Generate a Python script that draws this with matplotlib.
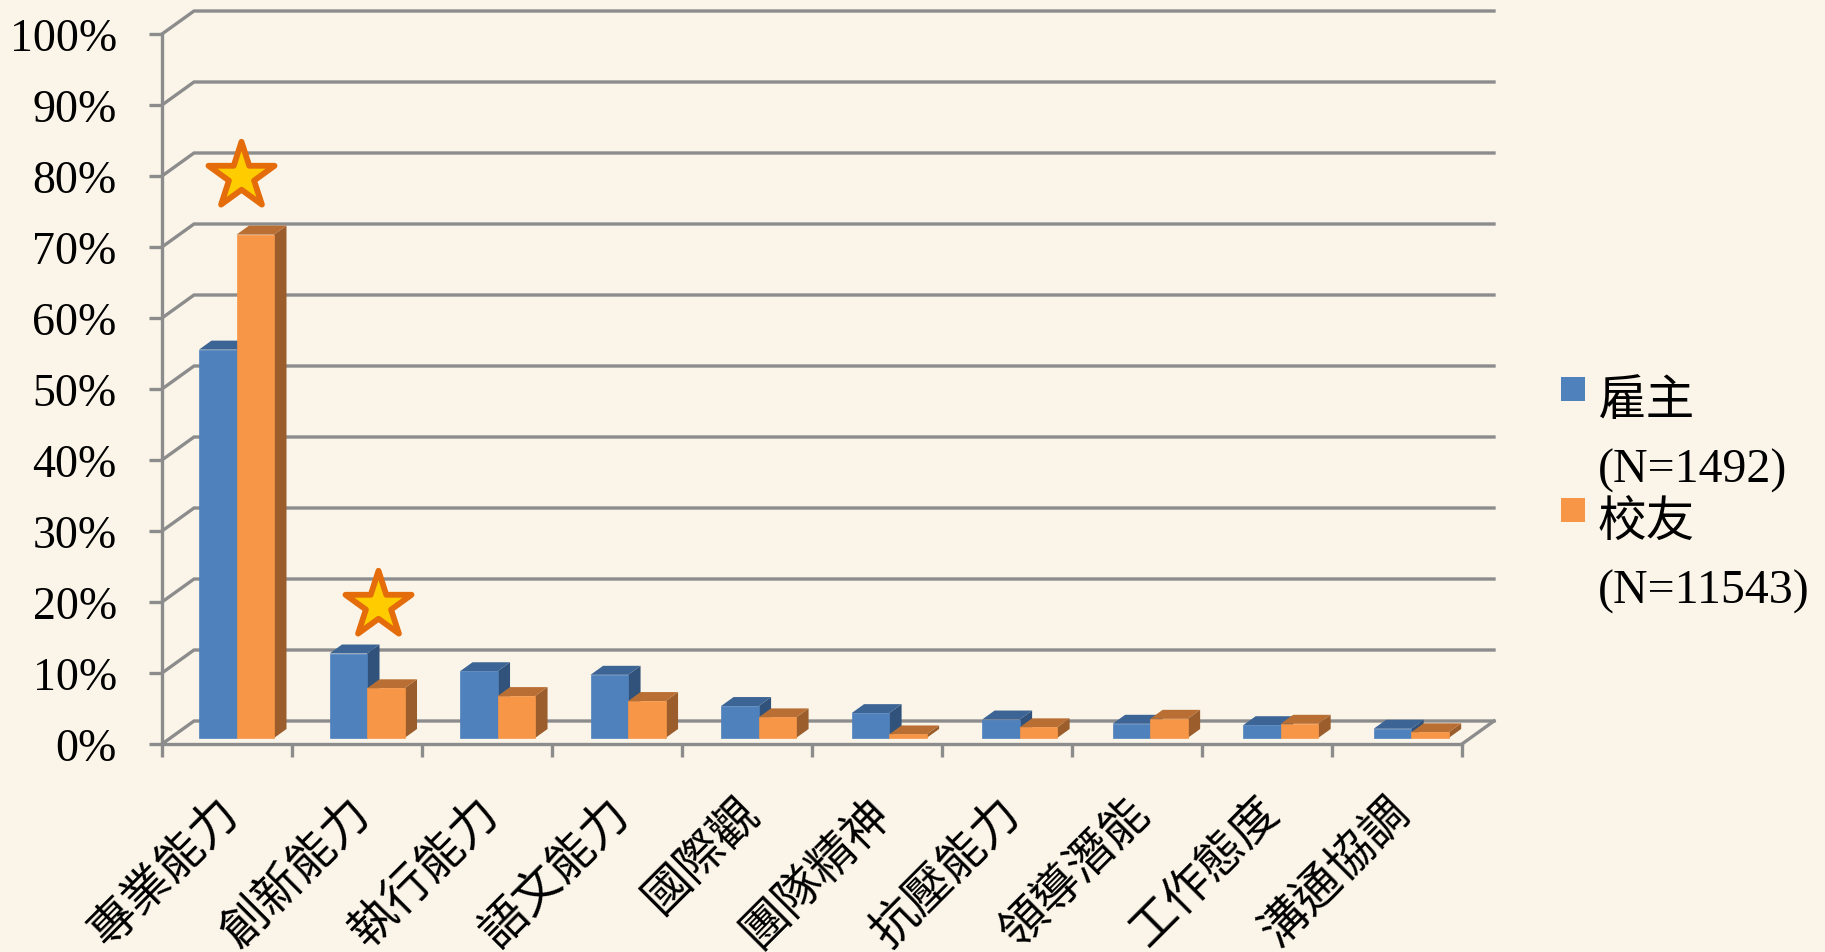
import matplotlib
matplotlib.use('Agg')
import numpy as np
import matplotlib.pyplot as plt
from matplotlib.markers import MarkerStyle
from matplotlib.patches import Polygon, Rectangle
from matplotlib.transforms import ScaledTranslation

plt.rcParams['font.family'] = ['Liberation Serif', 'Noto Sans CJK TC', 'DejaVu Sans']

categories = ['專業能力', '創新能力', '執行能力', '語文能力', '國際觀',
              '團隊精神', '抗壓能力', '領導潛能', '工作態度', '溝通協調']
employer = [54.7, 11.9, 9.4, 8.9, 4.5, 3.5, 2.6, 2.0, 1.8, 1.3]
alumni = [70.9, 7.0, 5.9, 5.2, 2.9, 0.5, 1.5, 2.7, 2.0, 0.8]
star_x = [0.61, 1.66]
star_y = [80, 19.6]
y_ticks = list(range(0, 101, 10))

W, H = 1825, 953
BG = '#FBF5E9'
GRID = '#8C8C8C'
# 像素 -> 数据单位
PX_X = 130.0
PX_Y = 7.1

fig = plt.figure(figsize=(W / 100, H / 100), dpi=100, facecolor=BG)
ax = fig.add_axes([162 / W, 1 - 745 / H, 1300 / W, 710 / H], facecolor='none')
ax.set_xlim(0, 10)
ax.set_ylim(0, 100)

# 3D 背景网格
wall_dx = 32 / PX_X
wall_dy = 23 / PX_Y
for v in y_ticks:
    ax.plot([0, wall_dx, 10 + wall_dx], [v, v + wall_dy, v + wall_dy], color=GRID, lw=2.4,
            clip_on=False, zorder=1, solid_joinstyle='miter')
ax.plot([10, 10 + wall_dx], [0, wall_dy], color=GRID, lw=2.4, clip_on=False, zorder=1)

# 柱子
bar_w = 37.5 / PX_X
bar_dx = 12.5 / PX_X
bar_dy = 9 / PX_Y
base = 6 / PX_Y
start = 37 / PX_X
spacing = 1.004


def draw_bar(x, v, front, top, side, z):
    y0 = base
    y1 = base + v
    ax.add_patch(Polygon([(x + bar_w, y0), (x + bar_w + bar_dx, y0 + bar_dy),
                          (x + bar_w + bar_dx, y1 + bar_dy), (x + bar_w, y1)],
                         facecolor=side, edgecolor='none', zorder=z, clip_on=False))
    ax.add_patch(Polygon([(x, y1), (x + bar_dx, y1 + bar_dy),
                          (x + bar_w + bar_dx, y1 + bar_dy), (x + bar_w, y1)],
                         facecolor=top, edgecolor='none', zorder=z, clip_on=False))
    ax.add_patch(Rectangle((x, y0), bar_w, v, facecolor=front, edgecolor=front,
                           lw=0.5, zorder=z + 0.1, clip_on=False))


for i in range(len(categories)):
    x = i * spacing + start
    draw_bar(x, employer[i], '#4F81BD', '#3C6494', '#30527B', 3)
    draw_bar(x + bar_w, alumni[i], '#F79646', '#B96F33', '#9A5D2B', 4)

# 星标
star = MarkerStyle('*', joinstyle='miter')
ax.scatter(star_x, star_y, s=2500, marker=star, facecolor='#FFCC00', edgecolor='#E46C0A',
           linewidth=4.2, zorder=6, clip_on=False)

# 坐标轴
for name in ['top', 'right']:
    ax.spines[name].set_visible(False)
for name in ['left', 'bottom']:
    ax.spines[name].set_color(GRID)
    ax.spines[name].set_linewidth(2.4)
ax.set_yticks(y_ticks)
ax.set_yticklabels(['%d%%' % v for v in y_ticks], fontsize=33, color='black')
ax.tick_params(axis='y', length=9.5, width=2.4, color=GRID, pad=23)
ax.set_xticks(np.arange(0, 11))
ax.set_xticklabels([])
ax.tick_params(axis='x', which='major', length=9.5, width=2.4, color=GRID)
ax.set_xticks(np.arange(len(categories)) + 0.5, minor=True)
labels = ax.set_xticklabels(categories, minor=True, rotation=45, ha='right', va='top',
                            rotation_mode='anchor', fontsize=34, color='black')
ax.tick_params(axis='x', which='minor', length=0, pad=33)
shift = ScaledTranslation(-10 / 100, 0, fig.dpi_scale_trans)
for t in labels:
    t.set_transform(t.get_transform() + shift)

# 图例
legend_items = [('#4F81BD', '雇主', '(N=1492)', 397), ('#F79646', '校友', '(N=11543)', 518)]
for color, name, count, y in legend_items:
    fig.add_artist(Rectangle((1561 / W, 1 - (y + 5) / H), 24 / W, 24 / H, facecolor=color,
                             edgecolor='none', transform=fig.transFigure))
    fig.text(1598 / W, 1 - (y + 6) / H, name, fontsize=35, va='center', ha='left')
    fig.text(1598 / W, 1 - (y + 74) / H, count, fontsize=34.5, va='center', ha='left')

fig.savefig('out.png', dpi=100, facecolor=BG)
